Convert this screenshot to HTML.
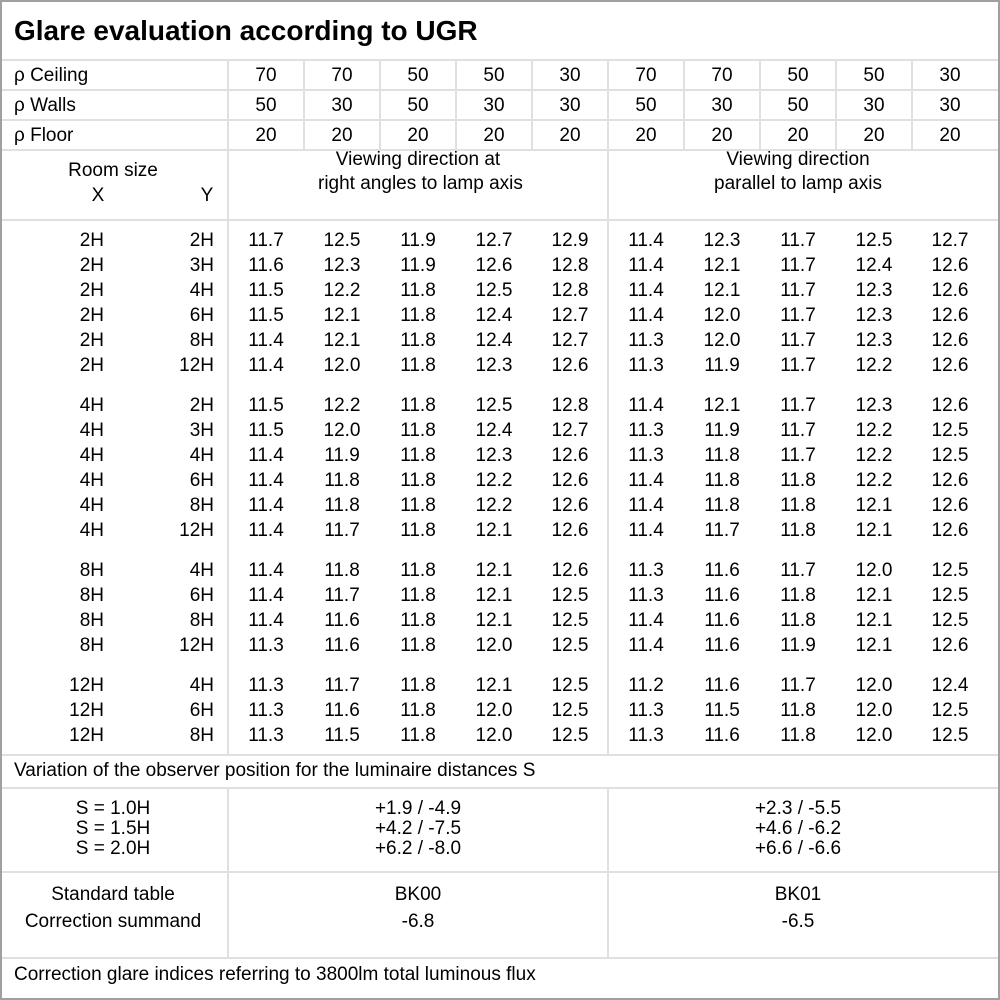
<!DOCTYPE html>
<html><head><meta charset="utf-8"><style>
body{margin:0;background:#fff;}
#c{position:relative;width:1000px;height:1000px;overflow:hidden;font-family:"Liberation Sans",sans-serif;font-size:19px;color:#000;}
.t{position:absolute;line-height:20px;white-space:nowrap;}
.h{position:absolute;height:2px;background:#e0e0e0;}
.v{position:absolute;width:2px;background:#e0e0e0;}
</style></head><body><div id="c">
<div style="position:absolute;left:0;top:0;width:996px;height:996px;border:2px solid #a0a0a0;"></div>
<div class="t" style="left:14px;top:14px;font-size:28px;line-height:34px;font-weight:bold;">Glare evaluation according to UGR</div>
</div>
<script>
var c=document.getElementById('c');
function T(txt,x,y,al,extra){var d=document.createElement('div');d.className='t';d.textContent=txt;
 if(al==='c'){d.style.left=(x-100)+'px';d.style.width='200px';d.style.textAlign='center';}
 else if(al==='r'){d.style.left=(x-200)+'px';d.style.width='200px';d.style.textAlign='right';}
 else d.style.left=x+'px';
 d.style.top=(y-8)+'px';if(extra)d.style.cssText+=extra;c.appendChild(d);}
function H(y,x1,x2){var d=document.createElement('div');d.className='h';d.style.top=(y-1)+'px';d.style.left=x1+'px';d.style.width=(x2-x1)+'px';c.appendChild(d);}
function V(x,y1,y2){var d=document.createElement('div');d.className='v';d.style.left=(x-1)+'px';d.style.top=y1+'px';d.style.height=(y2-y1)+'px';c.appendChild(d);}
[60,90,120,150,220,755,788,872,958].forEach(function(y){H(y,2,998);});
for(var i=0;i<10;i++){var x=228+76*i;V(x,60,150);}
V(228,150,755);V(608,150,755);V(228,788,958);V(608,788,958);
var cx=[];for(i=0;i<10;i++)cx.push(266+76*i);
var top3=[['ρ Ceiling',[70,70,50,50,30,70,70,50,50,30]],['ρ Walls',[50,30,50,30,30,50,30,50,30,30]],['ρ Floor',[20,20,20,20,20,20,20,20,20,20]]];
top3.forEach(function(r,k){var y=74+30*k;T(r[0],14,y);r[1].forEach(function(v,j){T(String(v),cx[j],y,'c');});});
T('Room size',113,169,'c');T('X',98,194,'c');T('Y',207,194,'c');
T('Viewing direction at',418,158,'c');T('right angles to lamp axis',418,182,'c');
T('Viewing direction',798,158,'c');T('parallel to lamp axis',798,182,'c');
var rows=[
['2H','2H','11.7 12.5 11.9 12.7 12.9 11.4 12.3 11.7 12.5 12.7'],
['2H','3H','11.6 12.3 11.9 12.6 12.8 11.4 12.1 11.7 12.4 12.6'],
['2H','4H','11.5 12.2 11.8 12.5 12.8 11.4 12.1 11.7 12.3 12.6'],
['2H','6H','11.5 12.1 11.8 12.4 12.7 11.4 12.0 11.7 12.3 12.6'],
['2H','8H','11.4 12.1 11.8 12.4 12.7 11.3 12.0 11.7 12.3 12.6'],
['2H','12H','11.4 12.0 11.8 12.3 12.6 11.3 11.9 11.7 12.2 12.6'],
null,
['4H','2H','11.5 12.2 11.8 12.5 12.8 11.4 12.1 11.7 12.3 12.6'],
['4H','3H','11.5 12.0 11.8 12.4 12.7 11.3 11.9 11.7 12.2 12.5'],
['4H','4H','11.4 11.9 11.8 12.3 12.6 11.3 11.8 11.7 12.2 12.5'],
['4H','6H','11.4 11.8 11.8 12.2 12.6 11.4 11.8 11.8 12.2 12.6'],
['4H','8H','11.4 11.8 11.8 12.2 12.6 11.4 11.8 11.8 12.1 12.6'],
['4H','12H','11.4 11.7 11.8 12.1 12.6 11.4 11.7 11.8 12.1 12.6'],
null,
['8H','4H','11.4 11.8 11.8 12.1 12.6 11.3 11.6 11.7 12.0 12.5'],
['8H','6H','11.4 11.7 11.8 12.1 12.5 11.3 11.6 11.8 12.1 12.5'],
['8H','8H','11.4 11.6 11.8 12.1 12.5 11.4 11.6 11.8 12.1 12.5'],
['8H','12H','11.3 11.6 11.8 12.0 12.5 11.4 11.6 11.9 12.1 12.6'],
null,
['12H','4H','11.3 11.7 11.8 12.1 12.5 11.2 11.6 11.7 12.0 12.4'],
['12H','6H','11.3 11.6 11.8 12.0 12.5 11.3 11.5 11.8 12.0 12.5'],
['12H','8H','11.3 11.5 11.8 12.0 12.5 11.3 11.6 11.8 12.0 12.5']];
var y=239;
rows.forEach(function(r){if(!r){y+=15;return;}
 T(r[0],104,y,'r');T(r[1],214,y,'r');
 r[2].split(' ').forEach(function(v,j){T(v,cx[j],y,'c');});y+=25;});
T('Variation of the observer position for the luminaire distances S',14,769);
['S = 1.0H','S = 1.5H','S = 2.0H'].forEach(function(s,k){T(s,113,807+20*k,'c');});
['+1.9 / -4.9','+4.2 / -7.5','+6.2 / -8.0'].forEach(function(s,k){T(s,418,807+20*k,'c');});
['+2.3 / -5.5','+4.6 / -6.2','+6.6 / -6.6'].forEach(function(s,k){T(s,798,807+20*k,'c');});
T('Standard table',113,893,'c');T('Correction summand',113,920,'c');
T('BK00',418,893,'c');T('-6.8',418,920,'c');
T('BK01',798,893,'c');T('-6.5',798,920,'c');
T('Correction glare indices referring to 3800lm total luminous flux',14,973);
</script>
</body></html>
